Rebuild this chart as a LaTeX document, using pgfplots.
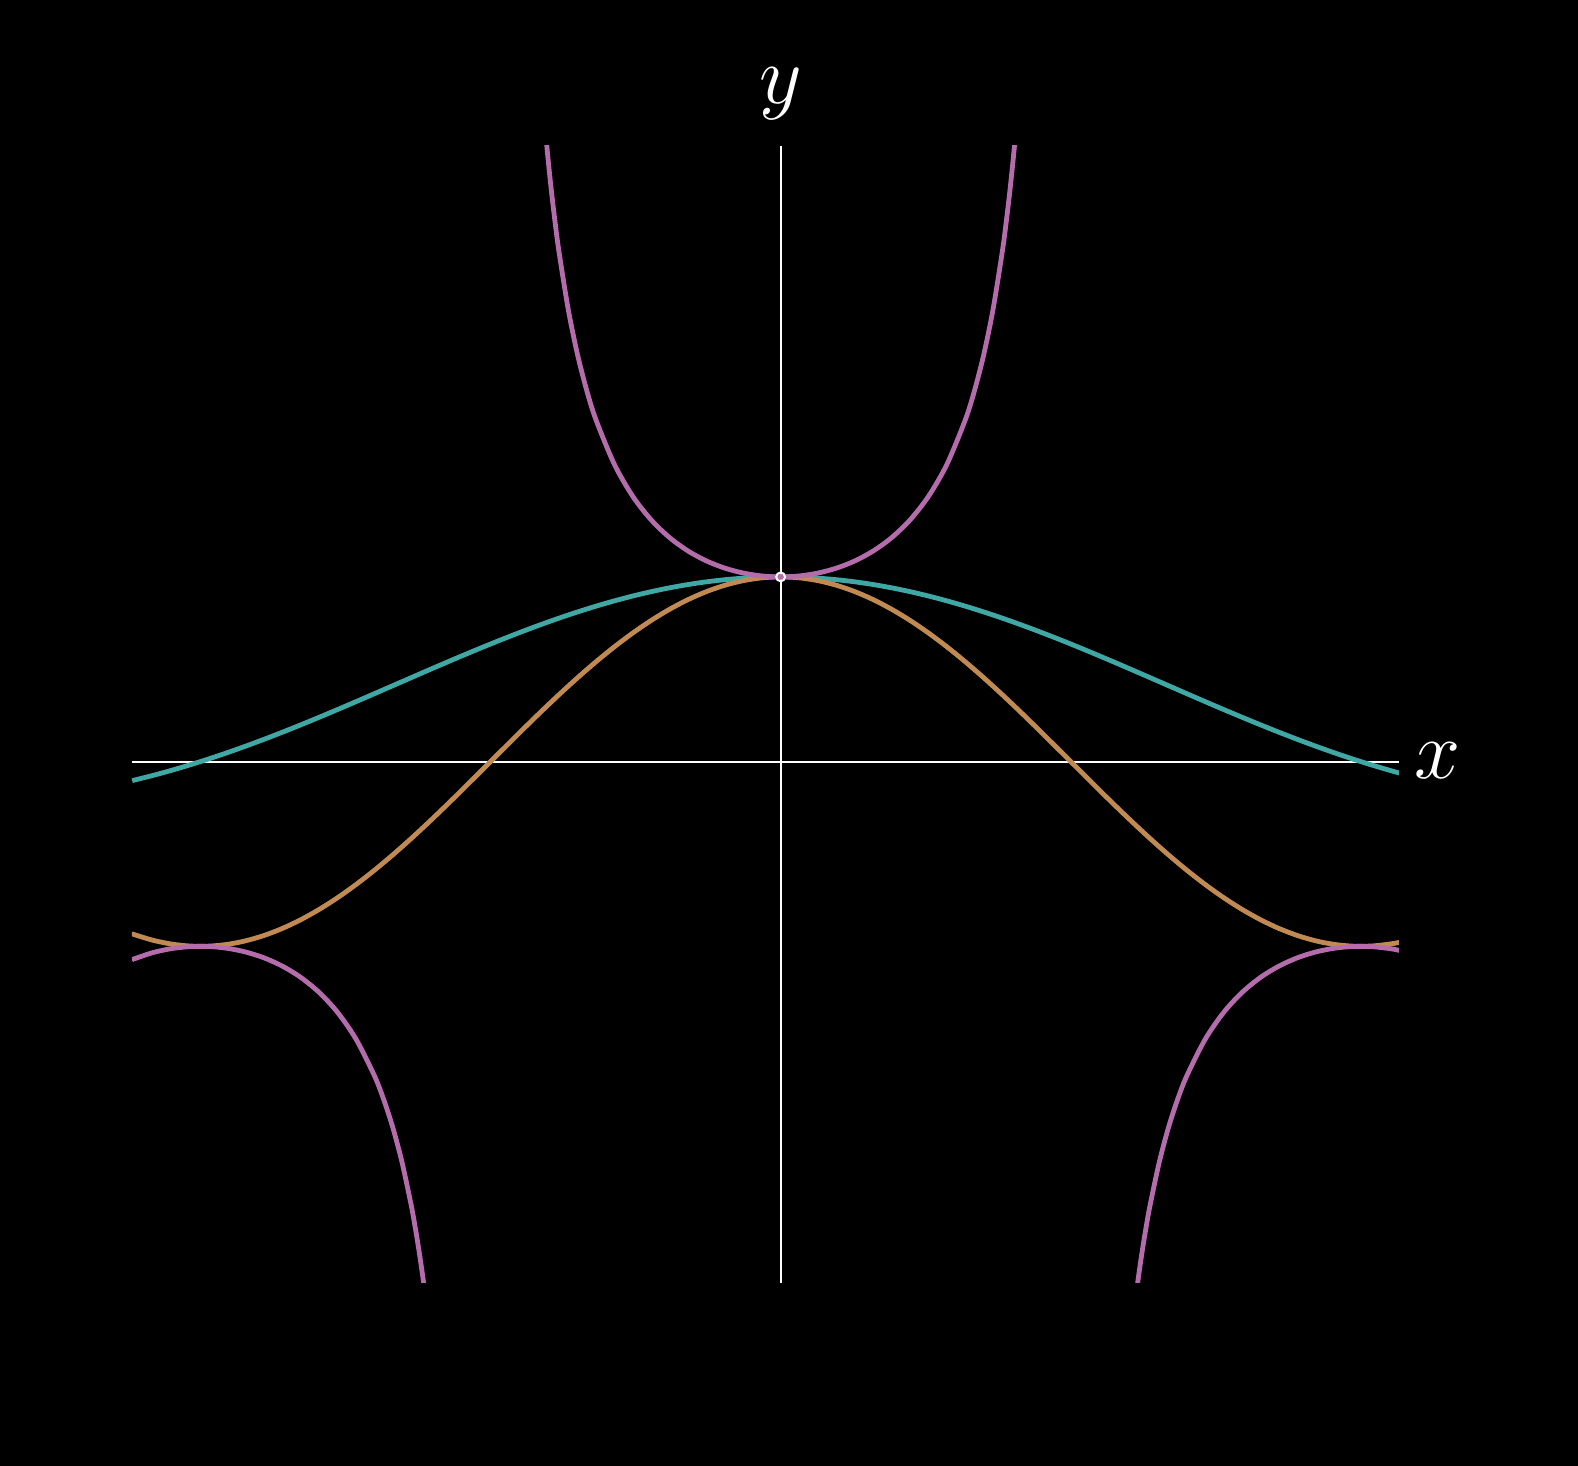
\documentclass[border=0pt]{standalone}
\usepackage{pgfplots}
\pgfplotsset{compat=1.18}
\usepackage{pgfplotstable}
\definecolor{cpurple}{HTML}{B56CAC}
\definecolor{cteal}{HTML}{3FA8A4}
\definecolor{corange}{HTML}{C18A52}

% x, cos(x), sin(x)/x
\pgfplotstableread{
x c s
-3.51 -0.93290 -0.10261
-3.5 -0.93646 -0.10022
-3.4 -0.96680 -0.07516
-3.3 -0.98748 -0.04780
-3.2 -0.99829 -0.01824
-3.1 -0.99914 0.01341
-3.0 -0.98999 0.04704
-2.9 -0.97096 0.08250
-2.8 -0.94222 0.11964
-2.7 -0.90407 0.15829
-2.6 -0.85689 0.19827
-2.5 -0.80114 0.23939
-2.4 -0.73739 0.28144
-2.3 -0.66628 0.32422
-2.2 -0.58850 0.36750
-2.1 -0.50485 0.41105
-2.0 -0.41615 0.45465
-1.9 -0.32329 0.49805
-1.8 -0.22720 0.54103
-1.7 -0.12884 0.58333
-1.6 -0.02920 0.62473
-1.5 0.07074 0.66500
-1.4 0.16997 0.70389
-1.3 0.26750 0.74120
-1.2 0.36236 0.77670
-1.1 0.45360 0.81019
-1.0 0.54030 0.84147
-0.9 0.62161 0.87036
-0.8 0.69671 0.89670
-0.7 0.76484 0.92031
-0.6 0.82534 0.94107
-0.5 0.87758 0.95885
-0.4 0.92106 0.97355
-0.3 0.95534 0.98507
-0.2 0.98007 0.99335
-0.1 0.99500 0.99833
0.0 1.00000 1.00000
0.1 0.99500 0.99833
0.2 0.98007 0.99335
0.3 0.95534 0.98507
0.4 0.92106 0.97355
0.5 0.87758 0.95885
0.6 0.82534 0.94107
0.7 0.76484 0.92031
0.8 0.69671 0.89670
0.9 0.62161 0.87036
1.0 0.54030 0.84147
1.1 0.45360 0.81019
1.2 0.36236 0.77670
1.3 0.26750 0.74120
1.4 0.16997 0.70389
1.5 0.07074 0.66500
1.6 -0.02920 0.62473
1.7 -0.12884 0.58333
1.8 -0.22720 0.54103
1.9 -0.32329 0.49805
2.0 -0.41615 0.45465
2.1 -0.50485 0.41105
2.2 -0.58850 0.36750
2.3 -0.66628 0.32422
2.4 -0.73739 0.28144
2.5 -0.80114 0.23939
2.6 -0.85689 0.19827
2.7 -0.90407 0.15829
2.8 -0.94222 0.11964
2.9 -0.97096 0.08250
3.0 -0.98999 0.04704
3.1 -0.99914 0.01341
3.2 -0.99829 -0.01824
3.3 -0.98748 -0.04780
3.35 -0.97836 -0.06176
}\trig

% sec(x), central branch
\pgfplotstableread{
x y
-1.30 3.73832
-1.28 3.48772
-1.26 3.26990
-1.24 3.07882
-1.22 2.90994
-1.20 2.75969
-1.15 2.44804
-1.10 2.20459
-1.05 2.00977
-1.00 1.85082
-0.9 1.60873
-0.8 1.43532
-0.7 1.30746
-0.6 1.21163
-0.5 1.13949
-0.4 1.08570
-0.3 1.04675
-0.2 1.02034
-0.1 1.00502
0.0 1.00000
0.1 1.00502
0.2 1.02034
0.3 1.04675
0.4 1.08570
0.5 1.13949
0.6 1.21163
0.7 1.30746
0.8 1.43532
0.9 1.60873
1.00 1.85082
1.05 2.00977
1.10 2.20459
1.15 2.44804
1.20 2.75969
1.22 2.90994
1.24 3.07882
1.26 3.26990
1.28 3.48772
1.30 3.73832
}\secmid

% sec(x), left branch
\pgfplotstableread{
x y
-3.51 -1.07193
-3.5 -1.06786
-3.4 -1.03434
-3.3 -1.01268
-3.2 -1.00171
-3.1 -1.00086
-3.0 -1.01011
-2.9 -1.02991
-2.8 -1.06131
-2.7 -1.10611
-2.6 -1.16701
-2.5 -1.24822
-2.4 -1.35614
-2.3 -1.50087
-2.2 -1.69924
-2.15 -1.82695
-2.1 -1.98079
-2.05 -2.16882
-2.0 -2.40297
-1.98 -2.51332
-1.96 -2.63539
-1.94 -2.77108
-1.92 -2.92270
-1.90 -3.09320
}\secleft

% sec(x), right branch
\pgfplotstableread{
x y
1.90 -3.09320
1.92 -2.92270
1.94 -2.77108
1.96 -2.63539
1.98 -2.51332
2.0 -2.40297
2.05 -2.16882
2.1 -1.98079
2.15 -1.82695
2.2 -1.69924
2.3 -1.50087
2.4 -1.35614
2.5 -1.24822
2.6 -1.16701
2.7 -1.10611
2.8 -1.06131
2.9 -1.02991
3.0 -1.01011
3.1 -1.00086
3.2 -1.00171
3.3 -1.01268
3.35 -1.02213
3.4 -1.03434
}\secright

\begin{document}
\begin{tikzpicture}
\fill[black] (-33pt,-45.825pt) rectangle (361.5pt,320.675pt);
\begin{axis}[
  at={(0,0)}, anchor=south west,
  scale only axis,
  width=316.75pt, height=284.175pt,
  xmin=-3.512, xmax=3.348,
  ymin=-2.821, ymax=3.333,
  axis lines=middle,
  axis line style={white, line width=0.5pt, -},
  xtick=\empty, ytick=\empty,
  xlabel={$x$}, ylabel={$y$},
  xlabel style={at={(axis description cs:1,0.4584)}, anchor=base west,
    inner sep=0pt, xshift=3.7pt, yshift=-4.1pt,
    font=\fontsize{20.5}{24}\selectfont, text=white},
  ylabel style={at={(axis description cs:0.512,1)}, anchor=base,
    inner sep=0pt, yshift=10.5pt, rotate=0,
    font=\fontsize{20.5}{24}\selectfont, text=white},
]
\addplot[cteal, line width=1.2pt, smooth] table[x=x, y=s] {\trig};
\addplot[corange, line width=1.2pt, smooth] table[x=x, y=c] {\trig};
\addplot[cpurple, line width=1.2pt, smooth] table[x=x, y=y] {\secmid};
\addplot[cpurple, line width=1.2pt, smooth] table[x=x, y=y] {\secleft};
\addplot[cpurple, line width=1.2pt, smooth] table[x=x, y=y] {\secright};
\addplot[white, only marks, mark=o, mark size=1.1pt, line width=0.5pt] coordinates {(0,1)};
\end{axis}
\end{tikzpicture}
\end{document}
